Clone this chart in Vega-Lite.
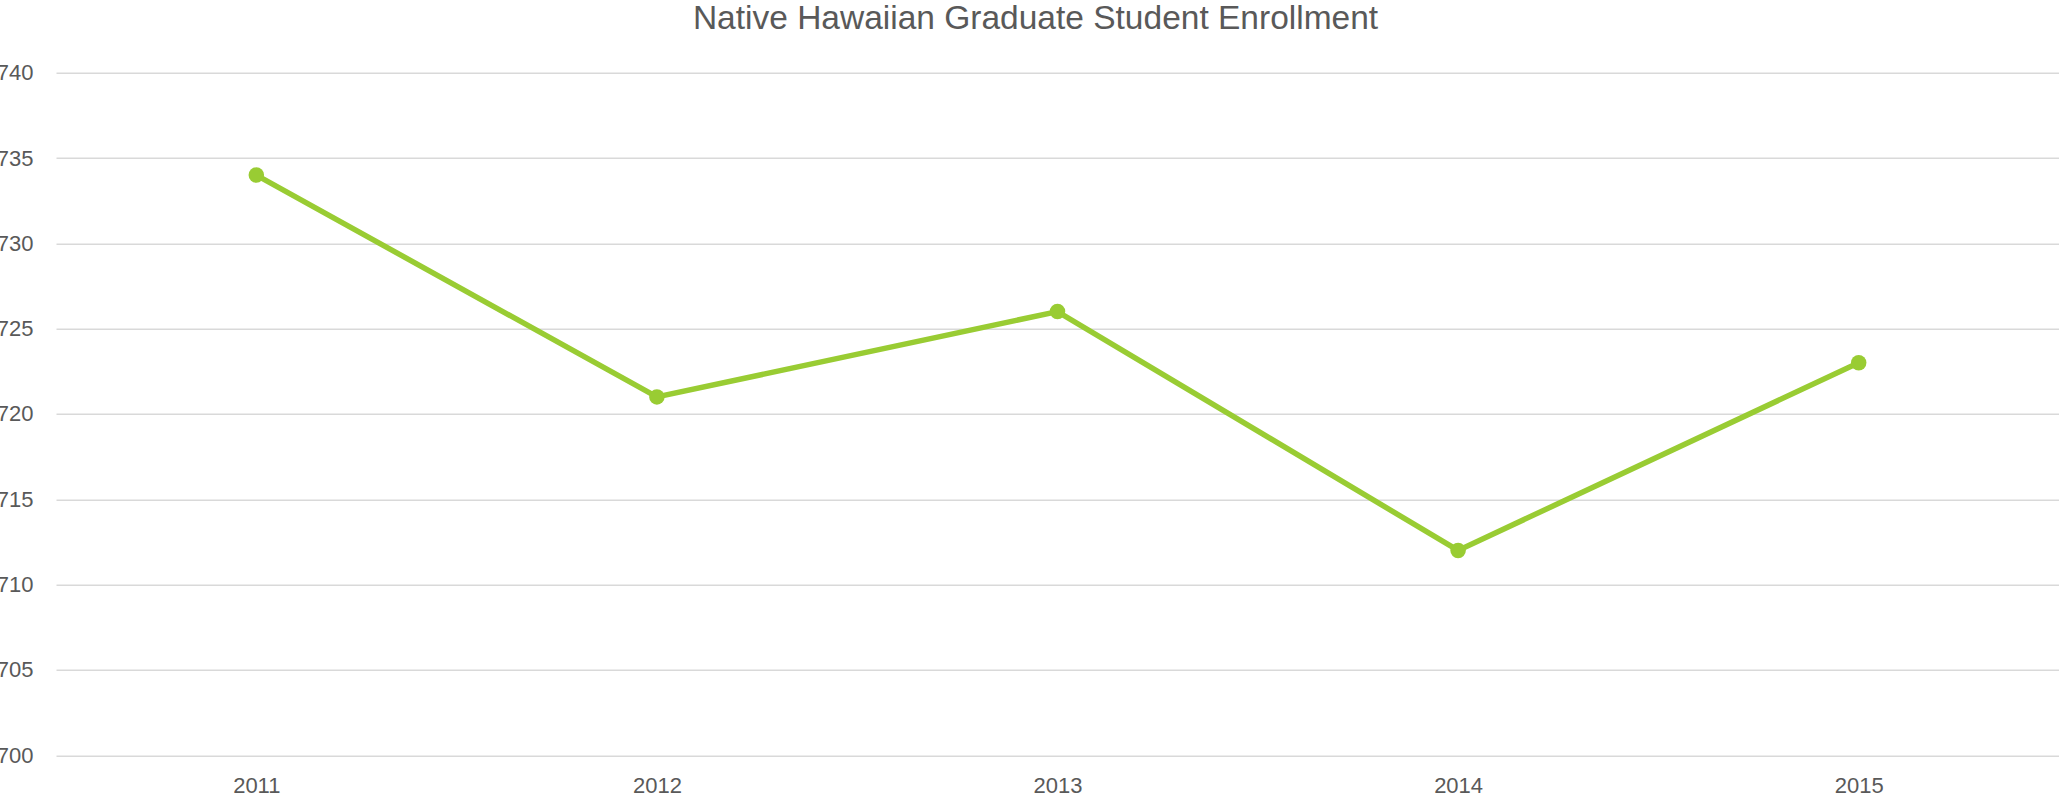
{
  "$schema": "https://vega.github.io/schema/vega-lite/v6.json",
  "autosize": "none",
  "width": 2003,
  "height": 682.5,
  "padding": {"left": 56, "top": 72.7, "right": 0, "bottom": 47.8},
  "background": "white",
  "title": {
    "text": "Native Hawaiian Graduate Student Enrollment",
    "font": "Liberation Sans",
    "fontSize": 33.5,
    "fontWeight": "normal",
    "color": "#595959",
    "anchor": "middle",
    "frame": "group",
    "dx": -22,
    "offset": 25
  },
  "config": {
    "view": {"stroke": null},
    "axis": {
      "labelFont": "Liberation Sans",
      "labelFontSize": 22,
      "labelColor": "#595959",
      "ticks": false,
      "domain": false,
      "title": null
    }
  },
  "data": {
    "values": [
      {"year": "2011", "enrollment": 734},
      {"year": "2012", "enrollment": 721},
      {"year": "2013", "enrollment": 726},
      {"year": "2014", "enrollment": 712},
      {"year": "2015", "enrollment": 723}
    ]
  },
  "mark": {
    "type": "line",
    "color": "#99CC33",
    "strokeWidth": 5.5,
    "point": {"filled": true, "size": 240, "color": "#99CC33", "opacity": 1}
  },
  "encoding": {
    "x": {
      "field": "year",
      "type": "ordinal",
      "scale": {"type": "point", "padding": 0.5},
      "axis": {"labelAngle": 0, "labelPadding": 20, "grid": false, "labelBaseline": "top"}
    },
    "y": {
      "field": "enrollment",
      "type": "quantitative",
      "scale": {"domain": [700, 740], "zero": false, "nice": false},
      "axis": {
        "values": [700, 705, 710, 715, 720, 725, 730, 735, 740],
        "grid": true,
        "gridColor": "#d9d9d9",
        "gridWidth": 1.6,
        "labelPadding": 23
      }
    }
  }
}
